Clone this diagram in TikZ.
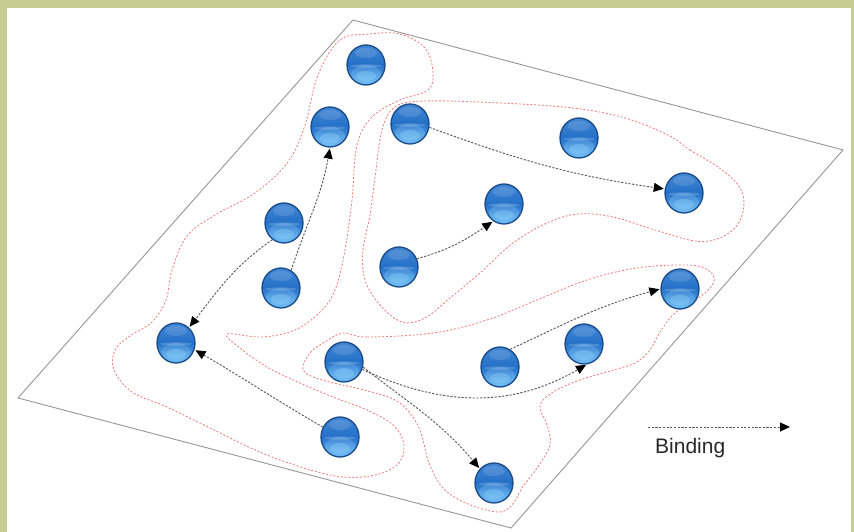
\documentclass[tikz,border=0pt]{standalone}
\usepackage{fontspec}
\newfontfamily\labelfont{Liberation Sans}
\usetikzlibrary{arrows.meta,shapes.geometric}
\pgfdeclarelayer{bg}
\pgfsetlayers{bg,main}
\definecolor{frameolive}{RGB}{197,204,148}
\definecolor{planegray}{RGB}{150,150,150}
\definecolor{contourred}{RGB}{238,130,130}
\definecolor{bindgray}{RGB}{85,85,85}
\definecolor{ballEdge}{RGB}{26,74,135}
\definecolor{ballTop}{RGB}{66,134,212}
\definecolor{ballMid}{RGB}{36,112,200}
\definecolor{ballBot}{RGB}{108,188,246}
\definecolor{ballGlow}{RGB}{150,214,252}
\definecolor{textgray}{RGB}{40,40,40}
\tikzset{
 ball/.style={ellipse, minimum width=38pt, minimum height=40pt, inner sep=0pt,
   draw=ballEdge, line width=1.3pt, top color=ballTop, bottom color=ballBot, middle color=ballMid,
   path picture={
     \fill[ballGlow, opacity=0.25] ([yshift=-9pt]path picture bounding box.center) ellipse [x radius=15pt, y radius=9pt];
     \fill[ballGlow, opacity=0.35] ([yshift=-11pt]path picture bounding box.center) ellipse [x radius=10pt, y radius=5pt];
     \fill[white, opacity=0.18] ([yshift=-1pt]path picture bounding box.center) ellipse [x radius=16pt, y radius=1.6pt];
     \fill[white, opacity=0.12] ([yshift=12pt]path picture bounding box.center) ellipse [x radius=11pt, y radius=5pt];
   }},
 bind/.style={draw=bindgray, line width=0.9pt, dash pattern=on 2.2pt off 1.5pt,
   -{Triangle[length=10pt,width=9pt,color=black]}, shorten >=1pt},
 contour/.style={draw=contourred, line width=0.85pt, dash pattern=on 2pt off 1.8pt},
 planeline/.style={draw=planegray, line width=0.9pt},
}
\begin{document}
\begin{tikzpicture}[x=1pt,y=1pt]
\useasboundingbox (0,0) rectangle (854,532);
\begin{pgfonlayer}{bg}
\fill[frameolive] (0,0) rectangle (854,532);
\fill[white] (7,0) rectangle (851,524);
\draw[planeline] (353,512) -- (843,382) -- (511,4) -- (18,134) -- cycle;
% contour A
\draw[contour] plot[smooth cycle, tension=0.6] coordinates {
(340,492) (370,498) (400,498) (425,484) (433,460) (428,442) (400,432) (372,415)
(357,387) (352,332) (345,282) (335,242) (320,220) (295,202) (262,195) (227,198)
(240,184) (267,165) (300,149) (333,135) (367,122) (393,107) (404,87) (397,67)
(370,56) (330,57) (267,77) (210,104) (167,125) (132,140) (114,162) (115,182)
(130,196) (152,210) (166,232) (172,262) (187,296) (215,317) (255,339) (288,370)
(305,407) (318,457)};
% contour B
\draw[contour] plot[smooth cycle, tension=0.6] coordinates {
(668,397) (690,382) (718,365) (738,347) (744,329) (738,308) (720,294) (695,291)
(655,302) (613,315) (578,318) (547,309) (513,289) (480,259) (450,234) (425,214)
(402,210) (380,227) (365,252) (363,282) (370,317) (376,362) (382,402) (395,425)
(425,431) (500,429) (573,424) (625,414)};
% contour C
\draw[contour] plot[smooth cycle, tension=0.6] coordinates {
(343,199) (367,195) (433,199) (487,212) (537,232) (587,252) (637,264) (687,267)
(708,262) (714,250) (700,235) (675,219) (660,200) (650,182) (635,169) (610,161)
(580,152) (555,141) (540,127) (547,107) (550,87) (537,64) (522,44) (512,27)
(498,20) (468,28) (443,44) (429,69) (421,99) (410,119) (393,133) (360,143)
(322,152) (303,162) (310,179) (325,190)};
\end{pgfonlayer}
% spheres
\node[ball] (s1) at (366,467) {};
\node[ball] (s2) at (330,405) {};
\node[ball] (s3) at (410,408) {};
\node[ball] (s4) at (579,394) {};
\node[ball] (s5) at (684,339) {};
\node[ball] (s6) at (504,328) {};
\node[ball] (s7) at (284,309) {};
\node[ball] (s8) at (399,265) {};
\node[ball] (s9) at (281,244) {};
\node[ball] (s10) at (176,189) {};
\node[ball] (s11) at (680,243) {};
\node[ball] (s12) at (344,170) {};
\node[ball] (s13) at (584,188) {};
\node[ball] (s14) at (500,165) {};
\node[ball] (s15) at (340,95) {};
\node[ball] (s16) at (494,49) {};
% binding arrows
\draw[bind] (s3.-10) to[out=-20,in=172] (s5.168);
\draw[bind] (s8.25) to[out=15,in=-146] (s6.-122);
\draw[bind] (s9.60) to[out=72,in=-100] (s2.-90);
\draw[bind] (s7.-125) to[out=-145,in=52] (s10.50);
\draw[bind] (s15.150) to[out=150,in=-30] (s10.-20);
\draw[bind] (s12.-15) to[out=-38,in=130] (s16.135);
\draw[bind] (s12.-22) to[out=-25,in=-150] (s13.-82);
\draw[bind] (s14.60) to[out=25,in=-165] (s11.180);
% legend
\coordinate (l1) at (648,105);
\coordinate (l2) at (790,105);
\draw[bind, shorten >=0pt] (l1) -- (l2);
\node[anchor=base west, inner sep=0pt, font=\labelfont\fontsize{21}{24}\selectfont, text=textgray] (lbl) at (655,78) {Binding};
\end{tikzpicture}
\end{document}
